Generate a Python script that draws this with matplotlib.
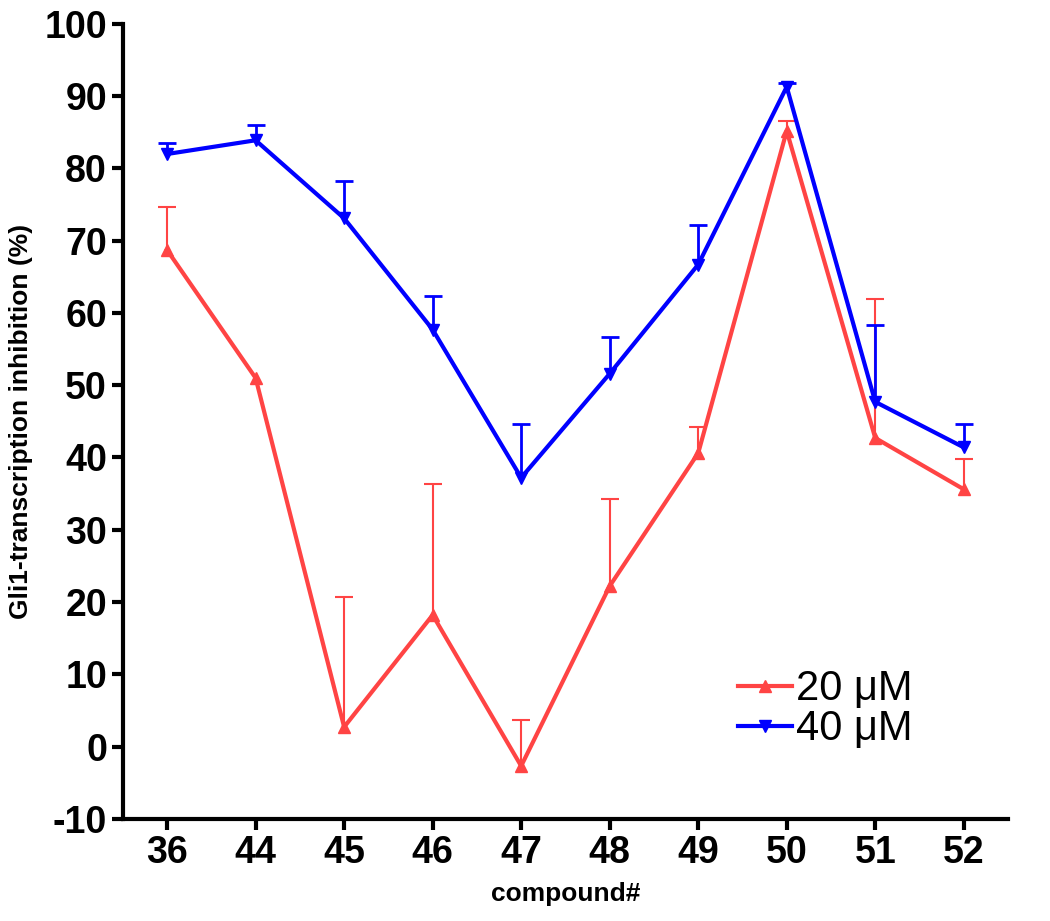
import numpy as np
import matplotlib.pyplot as plt

compounds = ['36', '44', '45', '46', '47', '48', '49', '50', '51', '52']

# 20 uM series (mean, upper error)
red_mean = [68.7, 51.0, 2.7, 18.2, -2.7, 22.2, 40.6, 85.2, 42.7, 35.6]
red_err = [6.0, 0.0, 18.0, 18.1, 6.4, 12.0, 3.6, 1.4, 19.3, 4.2]

# 40 uM series
blue_mean = [82.0, 83.9, 73.1, 57.7, 37.2, 51.6, 66.7, 91.3, 47.7, 41.4]
blue_err = [1.5, 2.1, 5.1, 4.7, 7.5, 5.1, 5.5, 0.5, 10.7, 3.3]

red = '#ff4444'
blue = '#0000ff'

plt.rcParams['font.family'] = ['Liberation Sans', 'DejaVu Sans']
plt.rcParams['axes.unicode_minus'] = False

fig = plt.figure(figsize=(10.5, 9.21), dpi=100)
ax = fig.add_axes([0.117, 0.111, 0.843, 0.863])

x = np.arange(len(compounds))


def draw_series(mean, err, color, marker, ew, label, z):
    mean = np.array(mean)
    err = np.array(err)
    top = mean + err
    has = err > 0
    # upper-only error bars with a cap
    ax.vlines(x[has], mean[has], top[has], color=color, lw=ew, zorder=z)
    ax.plot(x[has], top[has], ls='none', marker='_', ms=13, mew=ew, color=color, zorder=z)
    ax.plot(x, mean, color=color, lw=3, marker=marker, ms=8, label=label, zorder=z)


draw_series(red_mean, red_err, red, '^', 1.5, '20 \u03bcM', 2)
draw_series(blue_mean, blue_err, blue, 'v', 2, '40 \u03bcM', 3)

ax.set_xlim(-0.5, 9.5)
ax.set_ylim(-10, 100)
ax.set_yticks(np.arange(-10, 101, 10))
ax.set_xticks(x)
ax.set_xticklabels(compounds)

for s in ['top', 'right']:
    ax.spines[s].set_visible(False)
for s in ['left', 'bottom']:
    ax.spines[s].set_linewidth(3)

ax.tick_params(axis='both', width=3, length=8, labelsize=27)
for lab in ax.get_xticklabels() + ax.get_yticklabels():
    lab.set_fontweight('bold')

ax.set_xlabel('compound#', fontsize=19, fontweight='bold', labelpad=8)
ax.set_ylabel('Gli1-transcription inhibition (%)', fontsize=19, fontweight='bold', labelpad=8)

leg = ax.legend(loc='lower right', bbox_to_anchor=(0.935, 0.04), frameon=False,
                fontsize=30, handlelength=1.3, handletextpad=0.1, labelspacing=0.0)

fig.savefig('out.png', dpi=100)
